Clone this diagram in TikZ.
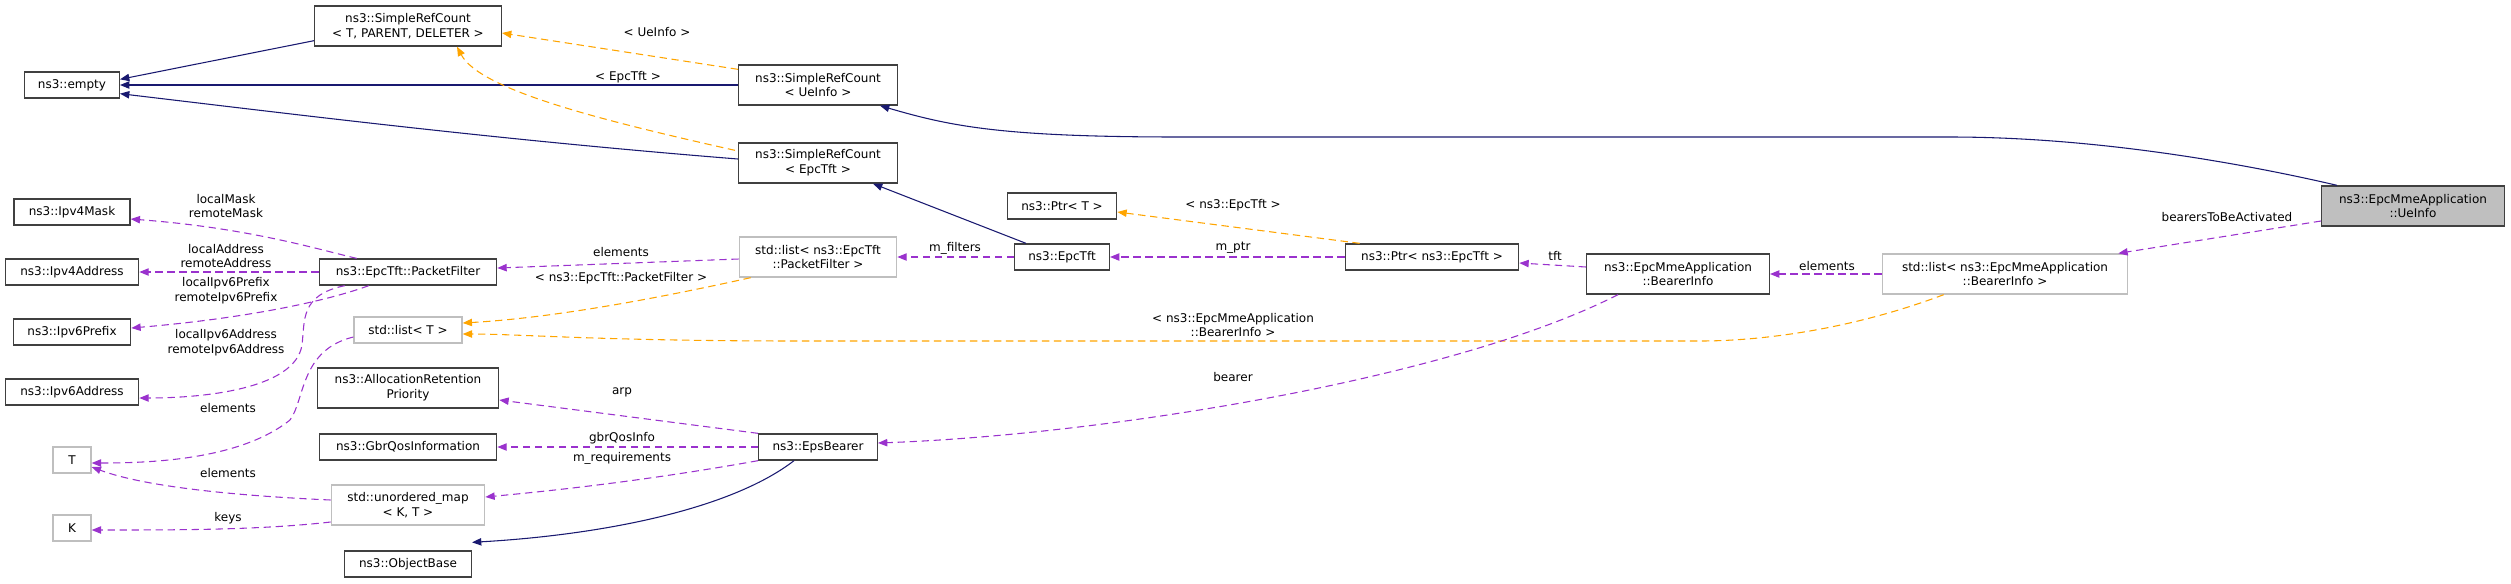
\documentclass[tikz,border=0pt]{standalone}
\usepackage{fontspec}
\setmainfont{DejaVu Sans}
\usetikzlibrary{arrows.meta,calc}
\definecolor{navy}{HTML}{191970}
\definecolor{purp}{HTML}{9A32CD}
\definecolor{orng}{HTML}{FFA500}
\definecolor{bord}{HTML}{404040}
\definecolor{lgray}{HTML}{BFBFBF}
\tikzset{
  box/.style={draw=bord,line width=1pt,inner sep=0pt,align=center,minimum height=19.5pt,font=\fontsize{9}{11.2}\selectfont},
  gbox/.style={box,draw=lgray},
  lbl/.style={inner sep=0pt,align=center,font=\fontsize{9}{11.2}\selectfont},
  inh/.style={-{Triangle[length=7pt,width=5.5pt,fill=navy]},draw=navy,line width=0.8pt},
  use/.style={-{Triangle[length=7pt,width=5.5pt,fill=purp]},draw=purp,line width=0.8pt,dash pattern=on 5.5pt off 3.5pt},
  tmpl/.style={-{Triangle[length=7pt,width=5.5pt,fill=orng]},draw=orng,line width=0.8pt,dash pattern=on 5.5pt off 3.5pt},
}
\begin{document}
\begin{tikzpicture}[x=0.75pt,y=-0.75pt]
\useasboundingbox (0,0) rectangle (2511,583);
% nodes
\node[box,minimum width=71pt] (empty) at (72,85) {ns3::empty};
\node[box,minimum width=140pt,minimum height=30pt] (srcT) at (408,26) {ns3::SimpleRefCount\\< T, PARENT, DELETER >};
\node[box,minimum width=119pt,minimum height=30pt] (srcU) at (818,85) {ns3::SimpleRefCount\\< UeInfo >};
\node[box,minimum width=119pt,minimum height=30pt] (srcE) at (818,163) {ns3::SimpleRefCount\\< EpcTft >};
\node[box,minimum width=87pt] (v4m) at (72,212) {ns3::Ipv4Mask};
\node[box,minimum width=100pt] (v4a) at (72,272) {ns3::Ipv4Address};
\node[box,minimum width=88pt] (v6p) at (72,332) {ns3::Ipv6Prefix};
\node[box,minimum width=100pt] (v6a) at (72,392) {ns3::Ipv6Address};
\node[gbox,minimum width=28.5pt] (T) at (72,460) {T};
\node[gbox,minimum width=28.5pt] (K) at (72,528) {K};
\node[box,minimum width=133pt] (pf) at (408,272) {ns3::EpcTft::PacketFilter};
\node[gbox,minimum width=81pt] (lT) at (408,330) {std::list< T >};
\node[box,minimum width=136pt,minimum height=30pt] (arp) at (408,388) {ns3::AllocationRetention\\Priority};
\node[box,minimum width=133pt] (gbr) at (408,447) {ns3::GbrQosInformation};
\node[gbox,minimum width=115pt,minimum height=30pt] (um) at (408,505) {std::unordered\_map\\< K, T >};
\node[box,minimum width=95pt] (ob) at (408,564) {ns3::ObjectBase};
\node[gbox,minimum width=118pt,minimum height=30pt] (lpf) at (818,257) {std::list< ns3::EpcTft\\::PacketFilter >};
\node[box,minimum width=89pt] (eps) at (818,447) {ns3::EpsBearer};
\node[box,minimum width=71pt] (tft) at (1062,257) {ns3::EpcTft};
\node[box,minimum width=82pt] (ptrT) at (1062,206) {ns3::Ptr< T >};
\node[box,minimum width=130pt] (ptrE) at (1432,257) {ns3::Ptr< ns3::EpcTft >};
\node[box,minimum width=137pt,minimum height=30pt] (bi) at (1678,274) {ns3::EpcMmeApplication\\::BearerInfo};
\node[gbox,minimum width=184pt,minimum height=30pt] (lbi) at (2005,274) {std::list< ns3::EpcMmeApplication\\::BearerInfo >};
\node[box,fill=lgray,minimum width=137pt,minimum height=30pt] (ue) at (2413,206) {ns3::EpcMmeApplication\\::UeInfo};
% inheritance
\draw[inh] ($(srcT.south west)+(0,-6)$) coordinate (a1) -- ($(empty.north east)+(0,8)$) coordinate (a1e);
\draw[inh] (srcU.west) -- (empty.east);
\draw[inh] ($(srcE.west)+(0,-4)$) coordinate (a2) .. controls (500,140) and (300,115) .. ($(empty.south east)+(0,-5)$) coordinate (a2e);
\draw[inh] ($(ue.north west)+(16,0)$) coordinate (a3) .. controls (2250,165) and (2100,137) .. (1950,137) coordinate (a3m) -- (1180,137) coordinate (a3n) .. controls (1000,137) and (950,126) .. ($(srcU.south east)+(-18,0)$);
\draw[inh] ($(tft.north west)+(12,0)$) coordinate (a4) -- ($(srcE.south east)+(-25,0)$);
\draw[inh] ($(eps.south west)+(36,0)$) coordinate (a5) .. controls (730,510) and (600,535) .. ($(ob.north east)+(0,-8)$);
% templates
\draw[tmpl] ($(srcU.north west)+(0,5)$) coordinate (b1) -- ($(srcT.east)+(0,7)$);
\draw[tmpl] ($(srcE.north west)+(-3,8)$) coordinate (b2) .. controls (600,120) and (480,90) .. ($(srcT.south east)+(-45,0)$);
\draw[tmpl] ($(lpf.south west)+(12,0)$) coordinate (b3) .. controls (650,300) and (550,318) .. ($(lT.east)+(0,-7)$);
\draw[tmpl] ($(lbi.south west)+(62,0)$) coordinate (b4) .. controls (1850,330) and (1760,341) .. (1700,341) coordinate (b4m) -- (800,341) coordinate (b4n) .. controls (600,341) and (520,334) .. ($(lT.east)+(0,4)$);
\draw[tmpl] ($(ptrE.north west)+(15,0)$) coordinate (b5) -- ($(ptrT.east)+(0,6)$);
% usage
\draw[use] ($(pf.north west)+(38,0)$) coordinate (c1) .. controls (320,250) and (250,228) .. ($(v4m.east)+(0,7)$);
\draw[use] (pf.west) -- (v4a.east);
\draw[use] ($(pf.south west)+(50,0)$) coordinate (c2) .. controls (330,300) and (250,318) .. ($(v6p.east)+(0,-4)$);
\draw[use] ($(pf.south west)+(26,0)$) coordinate (c3) .. controls (300,295) and (305,320) .. (302,345) coordinate (c3m) .. controls (295,390) and (200,398) .. ($(v6a.east)+(0,6)$);
\draw[use] ($(lT.west)+(0,7)$) coordinate (c4) .. controls (300,350) and (305,400) .. (290,420) coordinate (c4m) .. controls (240,460) and (150,463) .. ($(T.east)+(0,3)$);
\draw[use] ($(um.west)+(0,-5)$) coordinate (c5) .. controls (220,495) and (140,485) .. ($(T.east)+(0,7)$);
\draw[use] ($(um.west)+(0,17)$) coordinate (c6) .. controls (260,530) and (180,530) .. ($(K.east)+(0,2)$);
\draw[use] ($(lpf.west)+(0,2)$) coordinate (c7) -- ($(pf.east)+(0,-4)$);
\draw[use] (tft.west) -- (lpf.east);
\draw[use] (ptrE.west) -- (tft.east);
\draw[use] ($(bi.west)+(0,-7)$) coordinate (c8) -- ($(ptrE.east)+(0,6)$);
\draw[use] (lbi.west) -- (bi.east);
\draw[use] ($(ue.west)+(0,15)$) coordinate (c9) -- ($(lbi.north east)+(-10,0)$);
\draw[use] ($(bi.south west)+(32,0)$) coordinate (c10) .. controls (1450,380) and (1100,435) .. ($(eps.east)+(0,-4)$);
\draw[use] (eps.north west) -- ($(arp.east)+(0,12)$);
\draw[use] (eps.west) -- (gbr.east);
\draw[use] (eps.south west) .. controls (650,480) and (560,490) .. ($(um.east)+(0,-8)$);
% labels
\node[lbl] (l1) at (657,32) {< UeInfo >};
\node[lbl] (l2) at (628,77) {< EpcTft >};
\node[lbl] (l3) at (226,206) {localMask\\remoteMask};
\node[lbl] (l4) at (226,256) {localAddress\\remoteAddress};
\node[lbl] (l5) at (226,291) {localIpv6Prefix\\remoteIpv6Prefix};
\node[lbl] (l6) at (226,343) {localIpv6Address\\remoteIpv6Address};
\node[lbl] (l7) at (228,408) {elements};
\node[lbl] (l8) at (228,473) {elements};
\node[lbl] (l9) at (228,518) {keys};
\node[lbl] (l10) at (621,252) {elements};
\node[lbl] (l11) at (621,278) {< ns3::EpcTft::PacketFilter >};
\node[lbl] (l12) at (1233,325) {< ns3::EpcMmeApplication\\::BearerInfo >};
\node[lbl] (l13) at (955,248) {m\_filters};
\node[lbl] (l14) at (1233,248) {m\_ptr};
\node[lbl] (l15) at (1233,205) {< ns3::EpcTft >};
\node[lbl] (l16) at (1555,256) {tft};
\node[lbl] (l17) at (1827,266) {elements};
\node[lbl] (l18) at (2227,217) {bearersToBeActivated};
\node[lbl] (l19) at (1233,377) {bearer};
\node[lbl] (l20) at (622,392) {arp};
\node[lbl] (l21) at (622,438) {gbrQosInfo};
\node[lbl] (l22) at (622,458) {m\_requirements};
\end{tikzpicture}
\end{document}
